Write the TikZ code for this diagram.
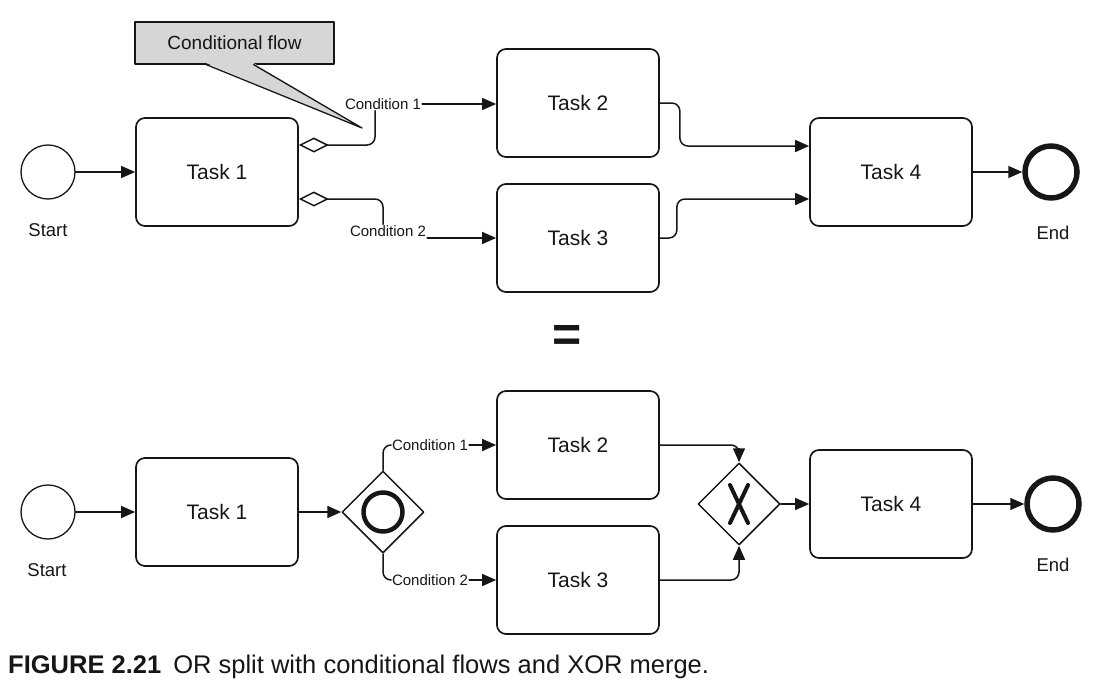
\documentclass[tikz,border=0pt]{standalone}
\usepackage{fontspec}
\setmainfont{Liberation Sans}
\usepackage{xcolor}
\usepackage{tikz}
\usetikzlibrary{arrows.meta,shapes.geometric,positioning}
\definecolor{bpmnline}{HTML}{161616}
\definecolor{calloutfill}{HTML}{D6D6D6}
\tikzset{
every picture/.style={line cap=round,line join=round},
task box/.style={
  draw=bpmnline,
  rounded corners=9pt,
  line width=1.7pt,
  minimum width=162pt,
  minimum height=108pt,
  inner sep=0pt,
  text=bpmnline,
  font=\fontsize{21}{25}\selectfont
},
start event/.style={circle, draw=bpmnline, line width=1.3pt, minimum size=54pt, inner sep=0pt},
end event/.style={circle, draw=bpmnline, line width=5.5pt, minimum size=52pt, inner sep=0pt},
gateway/.style={diamond, draw=bpmnline, line width=1.5pt, minimum size=82pt, inner sep=0pt},
event label/.style={font=\fontsize{18.5}{22}\selectfont, text=bpmnline},
cond label/.style={font=\fontsize{15}{18}\selectfont, text=bpmnline, inner sep=1pt},
plain flow/.style={draw=bpmnline, line width=1.5pt, rounded corners=8pt},
seq flow/.style={plain flow, -{Triangle[length=14pt,width=12pt]}},
cond start/.style={plain flow, {Diamond[open,length=30pt,width=15pt]}-},
callout box/.style={
  draw=bpmnline,
  fill=calloutfill,
  line width=1.3pt,
  minimum width=199pt,
  minimum height=42pt,
  text=bpmnline,
  font=\fontsize{19}{23}\selectfont
}
}
\begin{document}
\begin{tikzpicture}[x=1pt,y=-1pt]
\useasboundingbox (0,0) rectangle (1099,685);
% upper diagram: conditional flows
\node[start event] (starta) at (48,172) {};
\node[event label] (startalabel) at (48,230) {Start};
\node[task box] (t1a) at (217,172) {Task 1};
\node[task box] (t2a) at (578,103) {Task 2};
\node[task box] (t3a) at (578,238) {Task 3};
\node[task box] (t4a) at (891,172) {Task 4};
\node[end event] (enda) at (1051,172) {};
\node[event label] (endalabel) at (1053,233) {End};
\node[cond label] (c1a) at (383,104) {Condition 1};
\node[cond label] (c2a) at (388,231) {Condition 2};
\node[callout box] (callout) at (234.5,43) {Conditional flow};
\coordinate (cftip) at (362,128);
\fill[calloutfill] ([xshift=72pt,yshift=1.5pt]callout.south west) -- (cftip) -- ([xshift=-81pt,yshift=1.5pt]callout.south east) -- cycle;
\draw[bpmnline,line width=1.3pt] ([xshift=72pt]callout.south west) -- (cftip) -- ([xshift=-81pt]callout.south east);
\draw[seq flow] (starta) -- (t1a);
\draw[cond start] ([yshift=27pt]t1a.east) -| ([xshift=-8pt]c1a.south);
\draw[seq flow] (c1a.east) -- (c1a.east -| t2a.west);
\draw[cond start] ([yshift=-27pt]t1a.east) -| ([xshift=-5pt]c2a.north);
\draw[seq flow] (c2a.east |- t3a.west) -- (t3a.west);
\draw[seq flow] (t2a.east) -- ++(20,0) |- ([yshift=26pt]t4a.west);
\draw[seq flow] (t3a.east) -- ++(17,0) |- ([yshift=-27pt]t4a.west);
\draw[seq flow] (t4a) -- (enda);
% equivalence
\node[font=\bfseries\fontsize{50}{50}\selectfont, text=bpmnline] (equiv) at (567,338) {=};
% lower diagram: OR split and XOR merge
\node[start event] (startb) at (48,512) {};
\node[event label] (startblabel) at (47,570) {Start};
\node[task box] (t1b) at (217,512) {Task 1};
\node[gateway] (orgw) at (383,512) {};
\node[circle, draw=bpmnline, line width=4.5pt, minimum size=39pt, inner sep=0pt] (ormark) at (orgw) {};
\node[cond label] (c1b) at (430,445) {Condition 1};
\node[cond label] (c2b) at (430,580) {Condition 2};
\node[task box] (t2b) at (578,445) {Task 2};
\node[task box] (t3b) at (578,580) {Task 3};
\node[gateway] (xorgw) at (739,504) {};
\draw[bpmnline, line width=4pt] ([shift={(-9pt,19pt)}]xorgw.center) -- ([shift={(9pt,-19pt)}]xorgw.center);
\draw[bpmnline, line width=4pt] ([shift={(9pt,19pt)}]xorgw.center) -- ([shift={(-9pt,-19pt)}]xorgw.center);
\node[task box] (t4b) at (891,504) {Task 4};
\node[end event] (endb) at (1053,504) {};
\node[event label] (endblabel) at (1053,565) {End};
\draw[seq flow] (startb) -- (t1b);
\draw[seq flow] (t1b) -- (orgw);
\draw[plain flow] (orgw.north) |- (c1b.west);
\draw[seq flow] (c1b.east) -- (t2b.west);
\draw[plain flow] (orgw.south) |- (c2b.west);
\draw[seq flow] (c2b.east) -- (t3b.west);
\draw[seq flow] (t2b.east) -| (xorgw.north);
\draw[seq flow] (t3b.east) -| (xorgw.south);
\draw[seq flow] (xorgw) -- (t4b);
\draw[seq flow] (t4b) -- (endb);
% caption
\node[anchor=base west, inner sep=0pt, text=bpmnline, font=\fontsize{25.5}{30}\selectfont] (caption) at (8,673) {\textbf{FIGURE 2.21}\hspace{5pt} OR split with conditional flows and XOR merge.};
\end{tikzpicture}
\end{document}
